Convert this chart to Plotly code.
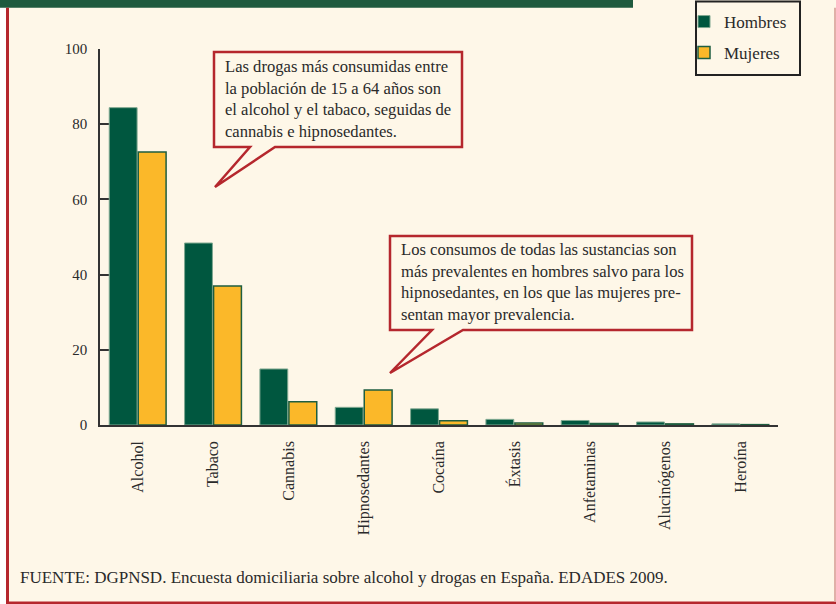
import plotly.graph_objects as go

categories = ["Alcohol", "Tabaco", "Cannabis", "Hipnosedantes", "Cocaína",
              "Éxtasis", "Anfetaminas", "Alucinógenos", "Heroína"]
hombres = [84.4, 48.4, 14.9, 4.7, 4.3, 1.5, 1.2, 0.8, 0.3]
mujeres = [72.6, 37.0, 6.2, 9.3, 1.1, 0.5, 0.4, 0.3, 0.1]
y_ticks = [0, 20, 40, 60, 80, 100]

callout1 = ("Las drogas más consumidas entre<br>la población de 15 a 64 años son<br>"
            "el alcohol y el tabaco, seguidas de<br>cannabis e hipnosedantes.")
callout2 = ("Los consumos de todas las sustancias son<br>más prevalentes en hombres salvo para los<br>"
            "hipnosedantes, en los que las mujeres pre-<br>sentan mayor prevalencia.")
fuente = "FUENTE: DGPNSD. Encuesta domiciliaria sobre alcohol y drogas en España. EDADES 2009."

W, H = 836, 604
L, R, T, B = 100, 58, 49, 179
PW, PH = W - L - R, H - T - B

def px(x):
    return (x - L) / PW

def py(y):
    return (H - B - y) / PH

BG = "#FEF7E8"
GREEN = "#00573F"
YELLOW = "#FBB829"
RED = "#B5272D"
TXT = "#2a2a2a"
FONT = "Liberation Serif"

fig = go.Figure()
fig.add_trace(go.Bar(x=categories, y=hombres, name="Hombres", legend="legend",
                     marker=dict(color=GREEN, line=dict(color="#7FA890", width=1))))
fig.add_trace(go.Bar(x=categories, y=mujeres, name="Mujeres", legend="legend2",
                     marker=dict(color=YELLOW, line=dict(color="#1E5E40", width=1.5))))

def path(points):
    s = "M " + " L ".join(f"{px(a):.5f},{py(b):.5f}" for a, b in points) + " Z"
    return s

shapes = [
    dict(type="rect", xref="paper", yref="paper", x0=px(0), x1=px(6), y0=py(604), y1=py(0),
         fillcolor="white", line=dict(width=0), layer="below"),
    dict(type="rect", xref="paper", yref="paper", x0=px(0), x1=px(633), y0=py(7.7), y1=py(0),
         fillcolor="#1F5A3E", line=dict(width=0), layer="below"),
    dict(type="rect", xref="paper", yref="paper", x0=px(6), x1=px(9), y0=py(604), y1=py(7.7),
         fillcolor=RED, line=dict(width=0), layer="below"),
    dict(type="rect", xref="paper", yref="paper", x0=px(6), x1=px(836), y0=py(604), y1=py(601.5),
         fillcolor=RED, line=dict(width=0), layer="below"),
    dict(type="rect", xref="paper", yref="paper", x0=px(834), x1=px(836), y0=py(601.5), y1=py(7.7),
         fillcolor="#E0B0A8", line=dict(width=0), layer="below"),
    dict(type="rect", xref="paper", yref="paper", x0=px(696), x1=px(800), y0=py(75), y1=py(1.5),
         fillcolor=BG, line=dict(color="#222", width=2)),
    dict(type="path", xref="paper", yref="paper",
         path=path([(214, 52), (462, 52), (462, 147), (275, 147), (215, 187), (250, 147), (214, 147)]),
         fillcolor=BG, line=dict(color=RED, width=2.5)),
    dict(type="path", xref="paper", yref="paper",
         path=path([(390, 236), (692, 236), (692, 330), (463, 330), (390, 373), (432, 330), (390, 330)]),
         fillcolor=BG, line=dict(color=RED, width=2.5)),
]

annotations = [
    dict(xref="paper", yref="paper", x=px(223), y=py(55), xanchor="left", yanchor="top",
         text=callout1, showarrow=False, align="left",
         font=dict(family=FONT, size=16.6, color=TXT)),
    dict(xref="paper", yref="paper", x=px(399), y=py(238), xanchor="left", yanchor="top",
         text=callout2, showarrow=False, align="left",
         font=dict(family=FONT, size=16.6, color=TXT)),
    dict(xref="paper", yref="paper", x=px(18), y=py(577), xanchor="left", yanchor="middle",
         text=fuente, showarrow=False, align="left",
         font=dict(family=FONT, size=17, color=TXT)),
]

leg_common = dict(xanchor="left", yanchor="middle", bgcolor="rgba(0,0,0,0)", borderwidth=0,
                  font=dict(family=FONT, size=17, color=TXT))

fig.update_layout(
    width=W, height=H,
    margin=dict(l=L, r=R, t=T, b=B, pad=0, autoexpand=False),
    paper_bgcolor=BG, plot_bgcolor=BG,
    barmode="group", bargap=0.23, bargroupgap=0.04,
    font=dict(family=FONT, size=16, color=TXT),
    showlegend=True,
    legend=dict(x=px(684), y=py(22), **leg_common),
    legend2=dict(x=px(684), y=py(53), **leg_common),
    shapes=shapes, annotations=annotations,
    xaxis=dict(categoryorder="array", categoryarray=categories, tickangle=-90,
               showline=True, linecolor="#333", linewidth=1.5, ticks="",
               showgrid=False, zeroline=False, ticklabelstandoff=8,
               tickfont=dict(family=FONT, size=16, color=TXT), layer="below traces"),
    yaxis=dict(range=[0, 100], tickvals=y_ticks, ticks="inside", ticklen=16, tickwidth=1.5,
               tickcolor="#333", showline=True, linecolor="#333", linewidth=1.5,
               showgrid=False, zeroline=False, ticklabelstandoff=8,
               tickfont=dict(family=FONT, size=15, color=TXT), layer="below traces"),
)

fig.write_html("out.html", config={"displayModeBar": False},
               post_script="document.body.style.margin='0';document.body.style.padding='0';")
